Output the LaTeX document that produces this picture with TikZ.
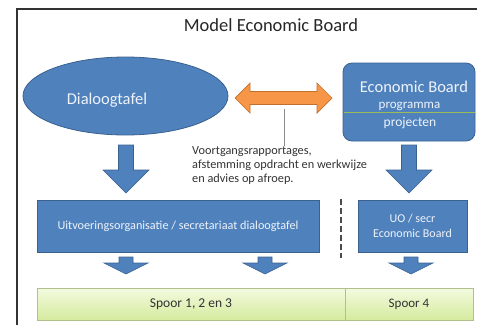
\documentclass[tikz,border=0pt]{standalone}
\usepackage{fontspec}
\setmainfont{Carlito}
\usetikzlibrary{shapes.geometric}
\definecolor{vlak}{HTML}{4F81BD}
\definecolor{vlakrand}{HTML}{3A6190}
\definecolor{oranje}{HTML}{F79646}
\definecolor{oranjerand}{HTML}{C0712F}
\definecolor{lichtgroen}{HTML}{F3FADF}
\definecolor{groen}{HTML}{D5EB9E}
\definecolor{groenrand}{HTML}{AFC08C}
\definecolor{scheidgroen}{HTML}{9BBB59}
\definecolor{tekstwit}{HTML}{EEF3FA}
\tikzset{
  blok/.style={draw=vlakrand, fill=vlak, line width=0.8pt},
  blokpijl/.style={draw=vlakrand, fill=vlak, line width=0.6pt},
  witteks/.style={text=tekstwit, inner sep=0pt},
  spoorvak/.style={draw=groenrand, top color=lichtgroen, bottom color=groen, line width=0.6pt},
}
\begin{document}
\begin{tikzpicture}[x=1pt, y=-1pt]
    \useasboundingbox (0,0) rectangle (477,325);
    \draw [line width=1.3pt, black!80] (17,325) -- (17,9) -- (477,9);
    \node [anchor=base, inner sep=0pt, text=black!85, font=\fontsize{18.5}{22}\selectfont] (titel) at (271,31) {Model Economic Board};
    % dialoogtafel
    \node [blok, ellipse, minimum width=205pt, minimum height=78pt] (dialoog) at (125.5,96) {};
    \node [witteks, anchor=base, font=\fontsize{16.5}{20}\selectfont] (dialoogtekst) at (107,104) {Dialoogtafel};
    % economic board
    \draw [blok, rounded corners=9pt] (343,63) rectangle (475,141) node[pos=0.5] (board) {};
    \draw [scheidgroen, line width=0.6pt] (343.5,112) -- (474.5,112);
    \node [witteks, anchor=base, font=\fontsize{16.5}{19}\selectfont] (boardtekst) at (414,92.5) {Economic Board};
    \node [witteks, anchor=base, font=\fontsize{13}{16}\selectfont] (programma) at (409.5,108.5) {programma};
    \node [witteks, anchor=base, font=\fontsize{13.5}{16}\selectfont] (projecten) at (410,126) {projecten};
    % uitwisseling
    \draw [draw=oranjerand, fill=oranje, line width=0.7pt] (235,98) -- (250,83) -- (250,91.5) -- (317,91.5) -- (317,83) -- (332,98) -- (317,113) -- (317,104.5) -- (250,104.5) -- (250,113) -- cycle;
    \coordinate (lijnbegin) at (284,109);
    \node [anchor=north west, align=left, inner sep=0pt, text=black!80, font=\fontsize{12.3}{14}\selectfont] (toelichting) at (192,146) {Voortgangsrapportages,\\afstemming opdracht en werkwijze\\en advies op afroep.};
    \draw [black!45, line width=0.6pt] (lijnbegin) -- (lijnbegin |- toelichting.north);
    % pijlen omlaag
    \draw [blokpijl] (118.5,145) -- (133.5,145) -- (133.5,170) -- (149,170) -- (126,193) -- (103,170) -- (118.5,170) -- cycle;
    \draw [blokpijl] (401.5,145) -- (416.5,145) -- (416.5,170) -- (432,170) -- (409,193) -- (386,170) -- (401.5,170) -- cycle;
    % uitvoering
    \draw [blok] (37,200) rectangle (319,252) node[pos=0.5, witteks, font=\fontsize{12.2}{14}\selectfont] (uitvoering) {Uitvoeringsorganisatie / secretariaat dialoogtafel};
    \draw [blok] (358,200) rectangle (467,252) node[pos=0.5, witteks, align=center, font=\fontsize{12}{15}\selectfont] (uosecr) {UO / secr\\Economic Board};
    \draw [black!70, line width=2.3pt, dash pattern=on 6pt off 3pt] (341,199) -- (341,258);
    % kleine pijlen
    \draw [blokpijl] (119,257) -- (133,257) -- (133,263) -- (148,263) -- (126,274) -- (104,263) -- (119,263) -- cycle;
    \draw [blokpijl] (258,257) -- (272,257) -- (272,263) -- (287,263) -- (265,274) -- (243,263) -- (258,263) -- cycle;
    \draw [blokpijl] (404,257) -- (418,257) -- (418,263) -- (433,263) -- (411,274) -- (389,263) -- (404,263) -- cycle;
    % sporen
    \draw [spoorvak] (37,288) rectangle (345,320) node[pos=0.5, inner sep=0pt, text=black!80, font=\fontsize{13.5}{16}\selectfont] (spoora) {Spoor 1, 2 en 3};
    \draw [spoorvak] (345,288) rectangle (473,320) node[pos=0.5, inner sep=0pt, text=black!80, font=\fontsize{13}{16}\selectfont] (spoorb) {Spoor 4};
\end{tikzpicture}
\end{document}
